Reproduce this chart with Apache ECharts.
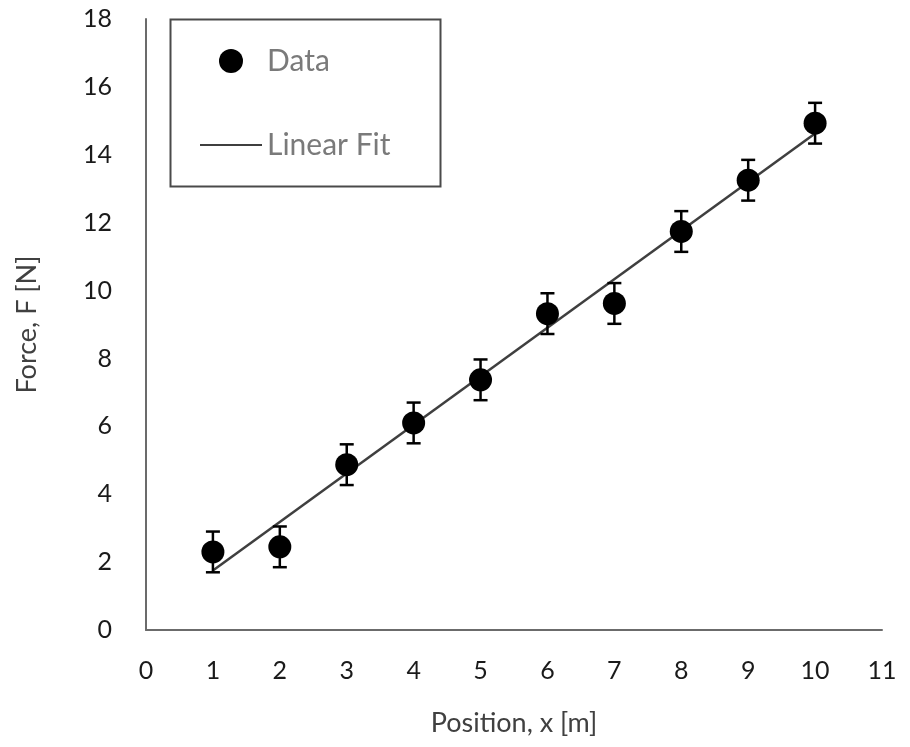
<!DOCTYPE html>
<html><head><meta charset="utf-8">
<script src="https://cdn.jsdelivr.net/npm/echarts@6/dist/echarts.min.js"></script>
<style>html,body{margin:0;padding:0;background:#fff}#c{width:910px;height:747px}</style>
</head><body><div id="c"></div>
<script>
const positions = [1, 2, 3, 4, 5, 6, 7, 8, 9, 10];
const forces = [2.30, 2.45, 4.87, 6.10, 7.37, 9.32, 9.62, 11.74, 13.25, 14.93];
const errors = [0.6, 0.6, 0.6, 0.6, 0.6, 0.6, 0.6, 0.6, 0.6, 0.6];
const fitX = [1, 10];
const fitY = [1.75, 14.63];
const xTicks = [0, 1, 2, 3, 4, 5, 6, 7, 8, 9, 10, 11];
const yTicks = [0, 2, 4, 6, 8, 10, 12, 14, 16, 18];

const FONT = 'Lato, "Open Sans", sans-serif';
const chart = echarts.init(document.getElementById('c'));
const pts = positions.map((x, i) => [x, forces[i]]);
const errData = positions.map((x, i) => [x, forces[i] - errors[i], forces[i] + errors[i]]);
const fitData = fitX.map((x, i) => [x, fitY[i]]);

chart.setOption({
  animation: false,
  backgroundColor: '#fff',
  grid: { left: 146, right: 28, top: 19, bottom: 117, containLabel: false },
  xAxis: {
    type: 'value', min: xTicks[0], max: xTicks[xTicks.length - 1], interval: 1,
    name: 'Position, x [m]', nameLocation: 'middle', nameGap: 80,
    nameTextStyle: { fontFamily: FONT, fontSize: 27, color: '#404040' },
    axisLine: { show: true, lineStyle: { color: '#6b6b6b', width: 2 } },
    axisTick: { show: false }, splitLine: { show: false },
    axisLabel: { fontFamily: FONT, fontSize: 25, color: '#1a1a1a', margin: 28 }
  },
  yAxis: {
    type: 'value', min: yTicks[0], max: yTicks[yTicks.length - 1], interval: 2,
    name: 'Force, F [N]', nameLocation: 'middle', nameGap: 105, nameRotate: 90,
    nameTextStyle: { fontFamily: FONT, fontSize: 27, color: '#404040' },
    axisLine: { show: true, lineStyle: { color: '#6b6b6b', width: 2 } },
    axisTick: { show: false }, splitLine: { show: false },
    axisLabel: { fontFamily: FONT, fontSize: 25, color: '#1a1a1a', margin: 34 }
  },
  legend: {
    left: 200, top: 46, orient: 'vertical', itemGap: 54, padding: 0,
    itemWidth: 62, itemHeight: 24,
    textStyle: { fontFamily: FONT, fontSize: 30, color: '#7a7a7a' },
    data: [
      { name: 'Data', icon: 'circle', itemStyle: { color: '#000', opacity: 1 } },
      { name: 'Linear Fit', icon: 'path://M0,10 L62,10 L62,12 L0,12 Z', itemStyle: { color: '#3f3f3f' } }
    ]
  },
  graphic: [{
    type: 'rect', left: 168, top: 17, z: 0,
    shape: { width: 270, height: 167 },
    style: { fill: 'none', stroke: '#4a4a4a', lineWidth: 2 }
  }],
  series: [
    {
      name: 'Linear Fit', type: 'line', data: fitData, showSymbol: false, symbol: 'none',
      lineStyle: { color: '#3f3f3f', width: 2.5 }, itemStyle: { color: '#3f3f3f' }, z: 3
    },
    {
      name: 'errors', type: 'custom', data: errData, z: 4,
      renderItem: function (params, api) {
        const x = api.value(0);
        const lo = api.coord([x, api.value(1)]);
        const hi = api.coord([x, api.value(2)]);
        const hw = 7;
        const st = { stroke: '#000', lineWidth: 2.5 };
        return {
          type: 'group', children: [
            { type: 'line', shape: { x1: lo[0], y1: lo[1], x2: hi[0], y2: hi[1] }, style: st },
            { type: 'line', shape: { x1: lo[0] - hw, y1: lo[1], x2: lo[0] + hw, y2: lo[1] }, style: st },
            { type: 'line', shape: { x1: hi[0] - hw, y1: hi[1], x2: hi[0] + hw, y2: hi[1] }, style: st }
          ]
        };
      }
    },
    {
      name: 'Data', type: 'scatter', data: pts, symbol: 'circle', symbolSize: 23,
      itemStyle: { color: '#000', opacity: 1 }, z: 5
    }
  ]
});
</script></body></html>
